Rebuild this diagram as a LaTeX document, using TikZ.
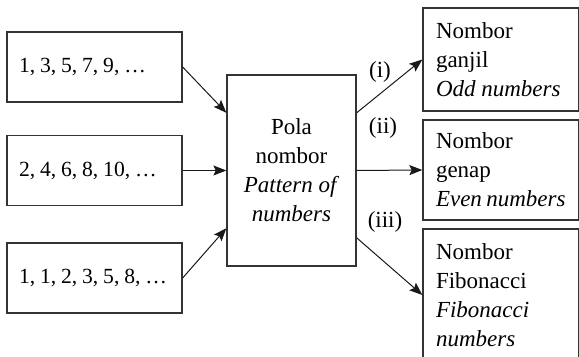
\documentclass[tikz,border=0pt]{standalone}
\usepackage{fontspec}
\setmainfont{Liberation Serif}
\newfontfamily\seqfont{Liberation Serif}[WordSpace=0.9]
\usetikzlibrary{positioning,arrows.meta,calc}
\hyphenpenalty=10000

\begin{document}
\begin{tikzpicture}[x=0.5pt,y=-0.5pt,font=\fontsize{11.5}{14.5}\selectfont,
	seqbox/.style={draw=black!80,line width=0.65pt,text width=75.5pt,inner xsep=6pt,minimum height=35pt,align=flush left,font=\seqfont\fontsize{10.8}{14.5}\selectfont},
	patbox/.style={draw=black!80,line width=0.65pt,minimum width=64.5pt,minimum height=95.5pt,align=flush center},
	resbox/.style={draw=black!80,line width=0.65pt,text width=64.75pt,inner xsep=6.5pt,align=flush left},
	myarrow/.style={-{Stealth[length=6.5pt,width=5pt,inset=1.2pt]},line width=0.5pt,black!90}]
\clip (0,0) rectangle (579,357);

%sequences (left)
\node[seqbox] (s1) at (94.5,67) {1, 3, 5, 7, 9, …};
\node[seqbox] (s2) at (94.5,170.5) {2, 4, 6, 8, 10, …};
\node[seqbox] (s3) at (94.5,278) {1, 1, 2, 3, 5, 8, …};

%pattern (middle)
\node[patbox] (pat) at (291.5,170.5) {Pola\\nombor\\\textit{Pattern of}\\\textit{numbers}};

%results (right)
\node[resbox,minimum height=51.5pt] (r1) at (500.75,59.5) {Nombor\\ganjil\\\textit{Odd~numbers}};
\node[resbox,minimum height=50pt] (r2) at (500.75,170) {Nombor\\genap\\\textit{Even~numbers}};
\node[resbox,minimum height=66pt] (r3) at (500.75,295) {Nombor\\Fibonacci\\\textit{Fibonacci}\\\textit{numbers}};

%arrows in
\draw[myarrow] (s1.east) -- ($(pat.north west)!0.2!(pat.south west)$);
\draw[myarrow] (s2.east) -- (pat.west);
\draw[myarrow] (s3.east) -- ($(pat.north west)!0.8!(pat.south west)$);

%arrows out
\draw[myarrow] ($(pat.north east)!0.2!(pat.south east)$) -- (r1.west);
\draw[myarrow] (pat.east) -- (r2.west);
\draw[myarrow] ($(pat.north east)!0.85!(pat.south east)$) -- (r3.west);

%labels
\node[inner sep=0] (l1) at (380,72) {(i)};
\node[inner sep=0] (l2) at (383,128) {(ii)};
\node[inner sep=0] (l3) at (385,222) {(iii)};
\end{tikzpicture}
\end{document}
